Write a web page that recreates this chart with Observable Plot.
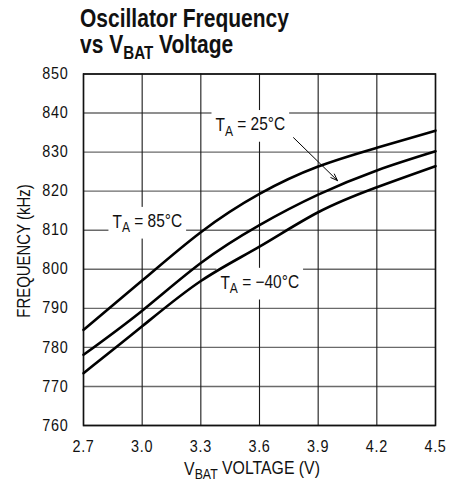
<!DOCTYPE html>
<html>
<head>
<meta charset="utf-8">
<script src="https://cdn.jsdelivr.net/npm/d3@7"></script>
<script src="https://cdn.jsdelivr.net/npm/@observablehq/plot@0.6"></script>
<style>
  html, body { margin: 0; padding: 0; background: #fff; }
  #wrap { position: relative; width: 463px; height: 485px; overflow: hidden; }
  #chart { position: absolute; left: 0; top: 60px; z-index: 1; }
  #chart svg { overflow: visible; background: none !important; }
  #title { position: absolute; left: 80px; top: 0; z-index: 2; font-family: "Liberation Sans", Arial, sans-serif; font-weight: bold; font-size: 25px; line-height: 26px; color: #111; transform: scaleX(0.84); transform-origin: 0 0; }
  #title .l1 { position: absolute; left: 0; top: 5px; white-space: nowrap; }
  #title .l2 { position: absolute; left: 0; top: 31px; white-space: nowrap; }
  #title sub { font-size: 18px; vertical-align: -6px; line-height: 0; }
</style>
</head>
<body>
<div id="wrap">
  <div id="title"><div class="l1">Oscillator Frequency</div><div class="l2">vs V<sub>BAT</sub> Voltage</div></div>
  <div id="chart"></div>
</div>
<script>
// ---- data ----
const voltage = [2.7, 3.0, 3.3, 3.6, 3.9, 4.2, 4.5];
const freq85 = [784.5, 797.1, 809.5, 819.3, 826.3, 831.1, 835.5];
const freq25 = [778.1, 789.4, 801.6, 811.3, 819.1, 825.3, 830.2];
const freqM40 = [773.4, 785.4, 797.0, 805.8, 814.6, 821.0, 826.4];
const xTicks = [2.7, 3.0, 3.3, 3.6, 3.9, 4.2, 4.5];
const yTicks = [760, 770, 780, 790, 800, 810, 820, 830, 840, 850];
const seriesNames = ["85", "25", "-40"];
const labelText = ["T|A| = 85°C", "T|A| = 25°C", "T|A| = −40°C"];
const labelX = [2.848, 3.375, 3.40];
const labelY = [812.0, 836.8, 796.4];
const arrowFrom = [3.774, 833.7];
const arrowTo = [3.999, 822.7];

const rows = [];
[freq85, freq25, freqM40].forEach((arr, i) => {
  arr.forEach((f, j) => rows.push({series: seriesNames[i], v: voltage[j], f}));
});
const labels = labelText.map((t, i) => ({t, x: labelX[i], y: labelY[i]}));
const arrows = [{x1: arrowFrom[0], y1: arrowFrom[1], x2: arrowTo[0], y2: arrowTo[1]}];

const font = '"Liberation Sans", Arial, sans-serif';

const chart = Plot.plot({
  width: 463,
  height: 425,
  marginTop: 13.5,
  marginLeft: 83,
  marginRight: 28,
  marginBottom: 60,
  style: {fontFamily: font, fontSize: "16px", color: "#111", background: "none", overflow: "visible"},
  x: {domain: [2.7, 4.5]},
  y: {domain: [760, 850]},
  marks: [
    Plot.ruleY(yTicks, {stroke: "#6a6a6a", strokeWidth: 1.4}),
    Plot.ruleX(xTicks, {stroke: "#1a1a1a", strokeWidth: 1.1}),
    Plot.frame({stroke: "#111", strokeWidth: 1.6}),
    Plot.axisX({ticks: xTicks, tickSize: 0, tickPadding: 15, tickFormat: d => d.toFixed(1), label: null, fontSize: 16}),
    Plot.axisY({ticks: yTicks, tickSize: 0, tickPadding: 15, label: null, fontSize: 16}),
    Plot.text(labels, {x: "x", y: "y", text: "t", textAnchor: "start", fontSize: 18, fill: "#111", className: "tlabel"}),
    Plot.line(rows, {x: "v", y: "f", z: "series", curve: "natural", stroke: "#000", strokeWidth: 2.6}),
    Plot.arrow(arrows, {x1: "x1", y1: "y1", x2: "x2", y2: "y2", stroke: "#000", strokeWidth: 1, headLength: 11, headAngle: 40})
  ]
});
document.getElementById("chart").appendChild(chart);

const svg = d3.select(chart);

// horizontal condense helper: keeps anchor position (x), squeezes glyphs; y (em offsets) untouched
function condense(el, s) {
  const x = parseFloat(el.getAttribute("x")) || 0;
  const t = el.getAttribute("transform") || "";
  el.removeAttribute("x");
  el.setAttribute("transform", `${t} translate(${x},0) scale(${s},1)`);
}

// subscript formatting and white boxes for labels
svg.selectAll(".tlabel text").each(function() {
  const el = d3.select(this);
  const parts = el.text().split("|");
  el.text(null);
  el.append("tspan").text(parts[0]);
  el.append("tspan").attr("font-size", 14).attr("dy", "0.3em").text(parts[1]);
  el.append("tspan").attr("dy", "-0.3em").text(parts[2]);
  condense(this, 0.86);
});
svg.selectAll(".tlabel text").each(function() {
  const bb = this.getBBox();
  const pm = this.parentNode.getCTM().inverse().multiply(this.getCTM());
  const x0 = pm.a * bb.x + pm.e, y0 = pm.d * bb.y + pm.f;
  const w = pm.a * bb.width, h = pm.d * bb.height;
  d3.select(this.parentNode).insert("rect", () => this)
    .attr("x", x0 - 4).attr("y", y0 - 4)
    .attr("width", w + 8).attr("height", h + 7)
    .attr("fill", "#fff");
});
// tick labels
svg.selectAll('[aria-label="x-axis tick label"] text, [aria-label="y-axis tick label"] text').each(function() {
  this.setAttribute("letter-spacing", "0.8px");
  condense(this, 0.9);
});

// axis titles
const xl = svg.append("text").attr("text-anchor", "middle")
  .attr("font-family", font).attr("font-size", 18).attr("fill", "#111")
  .attr("transform", "translate(252,415) scale(0.88,1)");
xl.append("tspan").text("V");
xl.append("tspan").attr("font-size", 14).attr("dy", "0.3em").text("BAT");
xl.append("tspan").attr("dy", "-0.3em").text(" VOLTAGE (V)");

svg.append("text").attr("transform", "translate(30,191) rotate(-90) scale(0.83,1)").attr("text-anchor", "middle")
  .attr("font-family", font).attr("font-size", 18).attr("fill", "#111")
  .text("FREQUENCY (kHz)");
</script>
</body>
</html>
